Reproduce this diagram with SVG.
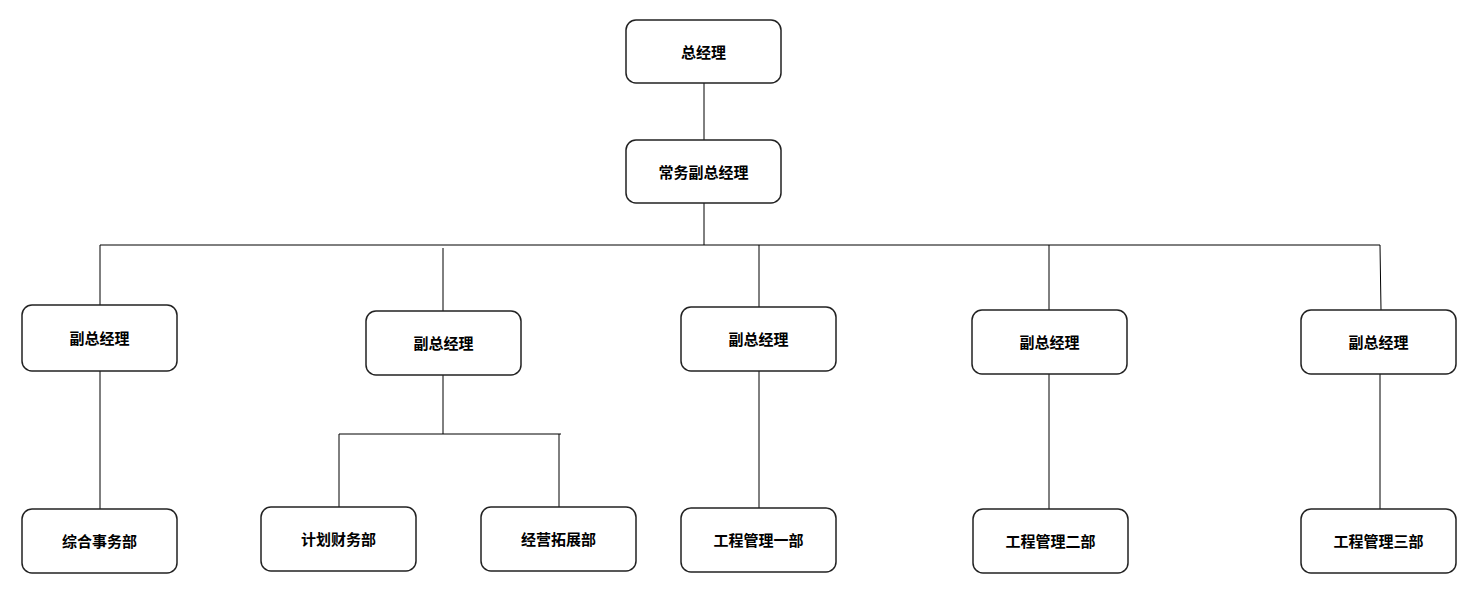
<svg xmlns="http://www.w3.org/2000/svg" width="1469" height="598" viewBox="0 0 1469 598">
<style>
.box{fill:#fff;stroke:#222;stroke-width:1.5}
.t{font-family:"Liberation Sans","Noto Sans CJK SC",sans-serif;font-size:15px;font-weight:bold;fill:#000;text-anchor:middle;dominant-baseline:central}
.c{stroke:#000;stroke-width:1;fill:none}
</style>
<rect width="1469" height="598" fill="#fff"/>
<g id="connectors">
<line class="c" x1="704" y1="83" x2="704" y2="140"/>
<line class="c" x1="704" y1="203" x2="704" y2="245"/>
<line class="c" x1="100" y1="245" x2="1380" y2="245"/>
<line class="c" x1="100" y1="245" x2="100" y2="305"/>
<line class="c" x1="100" y1="371" x2="100" y2="509"/>
<line class="c" x1="443" y1="248" x2="443" y2="311"/>
<line class="c" x1="443" y1="375" x2="443" y2="434"/>
<line class="c" x1="339" y1="434" x2="561" y2="434"/>
<line class="c" x1="339" y1="434" x2="339" y2="507"/>
<line class="c" x1="559" y1="434" x2="559" y2="507"/>
<line class="c" x1="759" y1="245" x2="759" y2="307"/>
<line class="c" x1="759" y1="371" x2="759" y2="508"/>
<line class="c" x1="1049" y1="245" x2="1049" y2="310"/>
<line class="c" x1="1049" y1="374" x2="1049" y2="509"/>
<line class="c" x1="1380" y1="245" x2="1381" y2="310"/>
<line class="c" x1="1380" y1="374" x2="1380" y2="509"/>
</g>
<g id="n-gm"><rect class="box" x="626" y="20" width="155" height="63" rx="10"/><text class="t" x="703.5" y="52">总经理</text></g>
<g id="n-evp"><rect class="box" x="626" y="140" width="155" height="63" rx="10"/><text class="t" x="703.5" y="172">常务副总经理</text></g>
<g id="n-vp1"><rect class="box" x="22" y="305" width="155" height="66" rx="10"/><text class="t" x="99.5" y="338">副总经理</text></g>
<g id="n-vp2"><rect class="box" x="366" y="311" width="155" height="64" rx="10"/><text class="t" x="443.5" y="343">副总经理</text></g>
<g id="n-vp3"><rect class="box" x="681" y="307" width="155" height="64" rx="10"/><text class="t" x="758.5" y="339">副总经理</text></g>
<g id="n-vp4"><rect class="box" x="972" y="310" width="155" height="64" rx="10"/><text class="t" x="1049.5" y="342">副总经理</text></g>
<g id="n-vp5"><rect class="box" x="1301" y="310" width="155" height="64" rx="10"/><text class="t" x="1378.5" y="342">副总经理</text></g>
<g id="n-d1"><rect class="box" x="22" y="509" width="155" height="64" rx="10"/><text class="t" x="99.5" y="541">综合事务部</text></g>
<g id="n-d2"><rect class="box" x="261" y="507" width="155" height="64" rx="10"/><text class="t" x="338.5" y="539">计划财务部</text></g>
<g id="n-d3"><rect class="box" x="481" y="507" width="155" height="64" rx="10"/><text class="t" x="558.5" y="539">经营拓展部</text></g>
<g id="n-d4"><rect class="box" x="681" y="508" width="155" height="64" rx="10"/><text class="t" x="758.5" y="540">工程管理一部</text></g>
<g id="n-d5"><rect class="box" x="973" y="509" width="155" height="64" rx="10"/><text class="t" x="1050.5" y="541">工程管理二部</text></g>
<g id="n-d6"><rect class="box" x="1301" y="509" width="155" height="64" rx="10"/><text class="t" x="1378.5" y="541">工程管理三部</text></g>
</svg>
